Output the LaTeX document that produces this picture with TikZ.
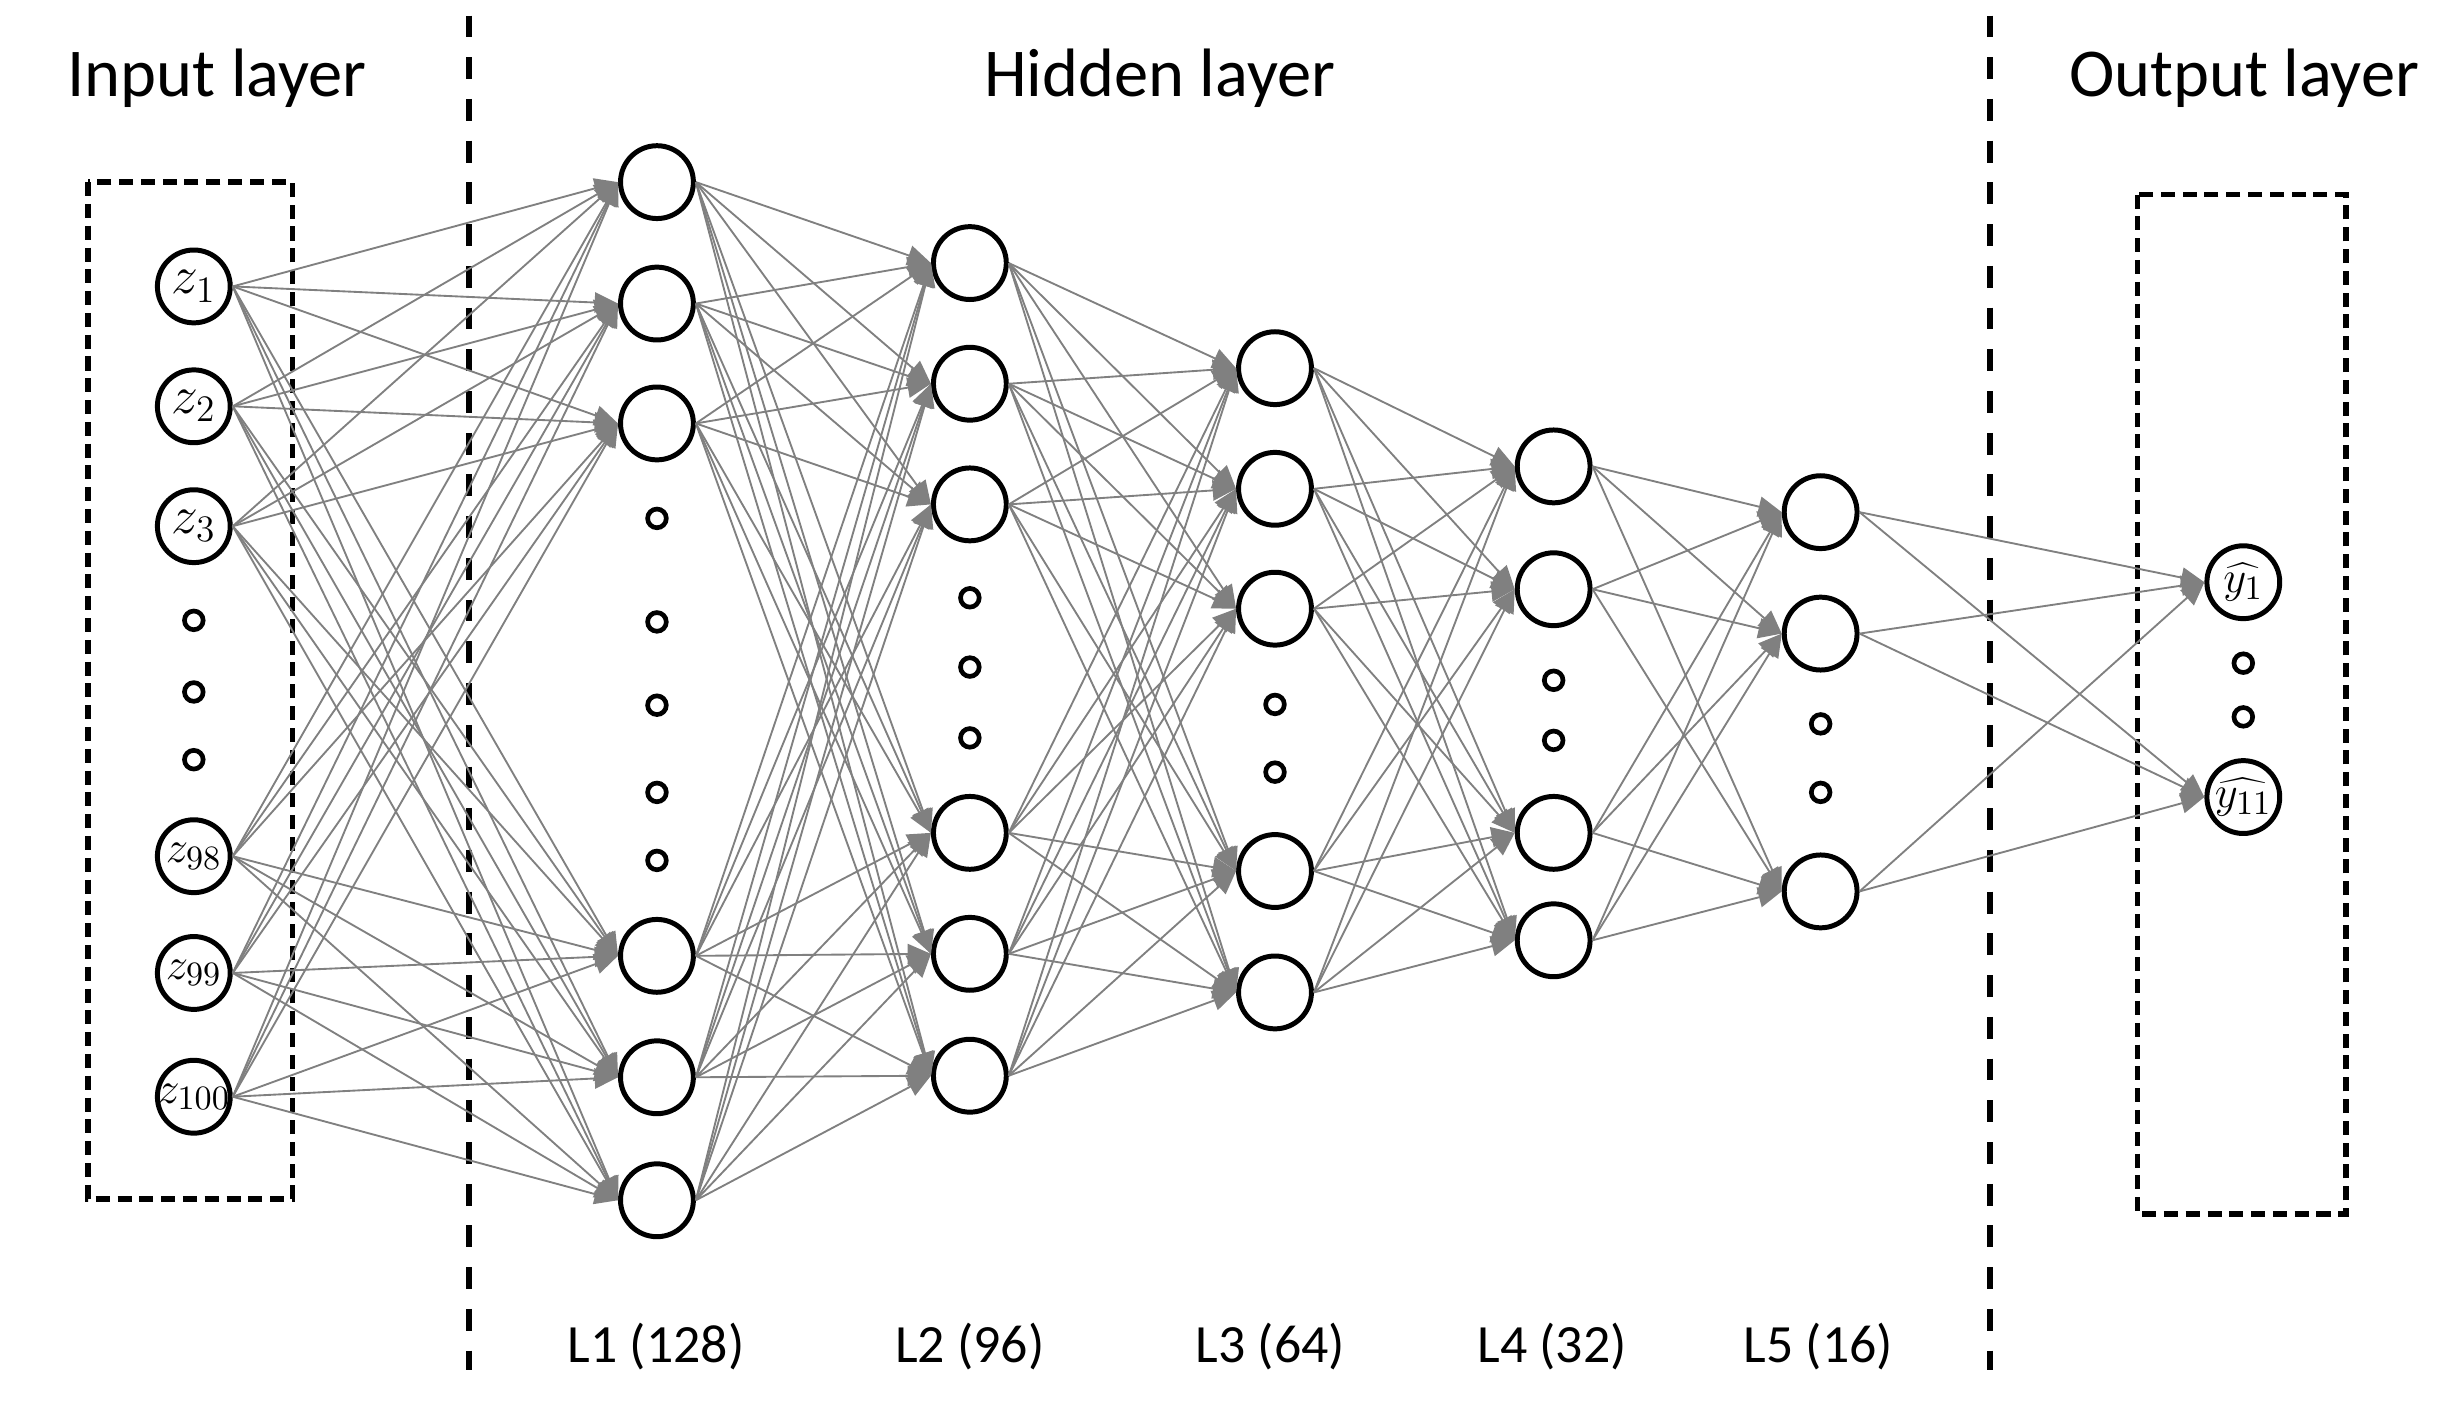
\documentclass[tikz,border=0pt]{standalone}
\usepackage{fontspec}
\setmainfont{Carlito}
\usetikzlibrary{arrows.meta}
\begin{document}
\begin{tikzpicture}[x=0.5pt,y=-0.5pt,
  neuron/.style={circle,draw=black,line width=1.6pt,minimum size=23.4pt,inner sep=0pt,fill=white},
  dotn/.style={circle,draw=black,line width=1.5pt,minimum size=6pt,inner sep=0pt},
  conn/.style={draw=gray,line width=0.6pt,-{Triangle[length=7.5pt,width=6.5pt]},fill=gray},
  sepline/.style={line width=2pt,dash pattern=on 7pt off 6.4pt},
  boxd/.style={line width=1.8pt,dash pattern=on 4.5pt off 2.5pt},
  title/.style={font=\fontsize{22}{26}\selectfont,anchor=base,inner sep=0pt},
  lab/.style={font=\fontsize{17.3}{20}\selectfont,anchor=base,inner sep=0pt},
  zlab/.style={font=\fontsize{17}{20}\selectfont,inner sep=0pt},
  zlabs/.style={font=\fontsize{15.5}{18}\selectfont,inner sep=0pt},
  ylab/.style={font=\fontsize{15}{18}\selectfont,inner sep=0pt}]
\useasboundingbox (0,0) rectangle (1568,902.5);

% titles
\node[title] (tin) at (139.5,62) {Input layer};
\node[title] (thid) at (745,62) {Hidden layer};
\node[title] (tout) at (1441.5,62) {Output layer};

% separators
\coordinate (s1t) at (301.5,10);
\coordinate (s1b) at (301.5,880);
\coordinate (s2t) at (1278.5,10);
\coordinate (s2b) at (1278.5,880);
\draw[sepline] (s1t) -- (s1b);
\draw[sepline] (s2t) -- (s2b);

% boxes
\coordinate (bi1) at (56.5,117);
\coordinate (bi2) at (188,770);
\coordinate (bo1) at (1373,125);
\coordinate (bo2) at (1507,780);
\draw[boxd] (bi1) rectangle (bi2);
\draw[boxd] (bo1) rectangle (bo2);

% input layer
\node[neuron,label={[zlab]center:$z_1$}] (in1) at (124.5,184) {};
\node[neuron,label={[zlab]center:$z_2$}] (in2) at (124.5,261) {};
\node[neuron,label={[zlab]center:$z_3$}] (in3) at (124.5,338) {};
\node[neuron,label={[zlabs]center:$z_{98}$}] (in4) at (124.5,550) {};
\node[neuron,label={[zlabs]center:$z_{99}$}] (in5) at (124.5,625) {};
\node[neuron,label={[zlabs]center:$z_{100}$}] (in6) at (124.5,704.5) {};
\foreach \y [count=\k] in {398.5,444.5,488} \node[dotn] (ind\k) at (124.5,\y) {};

% L1
\foreach \y [count=\k] in {117,195,272,614,692,771} \node[neuron] (a\k) at (422,\y) {};
\foreach \y [count=\k] in {333,399.5,453,509,552.7} \node[dotn] (ad\k) at (422,\y) {};
% L2
\foreach \y [count=\k] in {169,246.5,324,535,612.7,691} \node[neuron] (b\k) at (623,\y) {};
\foreach \y [count=\k] in {384,428.5,474} \node[dotn] (bd\k) at (623,\y) {};
% L3
\foreach \y [count=\k] in {236.5,314,391,559.5,637.5} \node[neuron] (c\k) at (819,\y) {};
\foreach \y [count=\k] in {452.5,496} \node[dotn] (cd\k) at (819,\y) {};
% L4
\foreach \y [count=\k] in {299.6,378.5,535,604} \node[neuron] (d\k) at (998,\y) {};
\foreach \y [count=\k] in {437,475.6} \node[dotn] (dd\k) at (998,\y) {};
% L5
\foreach \y [count=\k] in {329,407,572.6} \node[neuron] (e\k) at (1169.5,\y) {};
\foreach \y [count=\k] in {465,509} \node[dotn] (ed\k) at (1169.5,\y) {};
% output
\node[neuron,label={[ylab]center:$\widehat{y_1}$}] (o1) at (1441,374) {};
\node[neuron,label={[ylab]center:$\widehat{y_{11}}$}] (o2) at (1441,512) {};
\foreach \y [count=\k] in {426,460.5} \node[dotn] (od\k) at (1441,\y) {};

% connections
\foreach \i in {1,...,6} \foreach \j in {1,...,6} \draw[conn] (in\i.east) -- (a\j.west);
\foreach \i in {1,...,6} \foreach \j in {1,...,6} \draw[conn] (a\i.east) -- (b\j.west);
\foreach \i in {1,...,6} \foreach \j in {1,...,5} \draw[conn] (b\i.east) -- (c\j.west);
\foreach \i in {1,...,5} \foreach \j in {1,...,4} \draw[conn] (c\i.east) -- (d\j.west);
\foreach \i in {1,...,4} \foreach \j in {1,...,3} \draw[conn] (d\i.east) -- (e\j.west);
\foreach \i in {1,...,3} \foreach \j in {1,...,2} \draw[conn] (e\i.east) -- (o\j.west);

% layer labels
\node[lab] (l1) at (421.5,875) {L1 (128)};
\node[lab] (l2) at (623,875) {L2 (96)};
\node[lab] (l3) at (816,875) {L3 (64)};
\node[lab] (l4) at (997,875) {L4 (32)};
\node[lab] (l5) at (1168,875) {L5 (16)};
\end{tikzpicture}
\end{document}
